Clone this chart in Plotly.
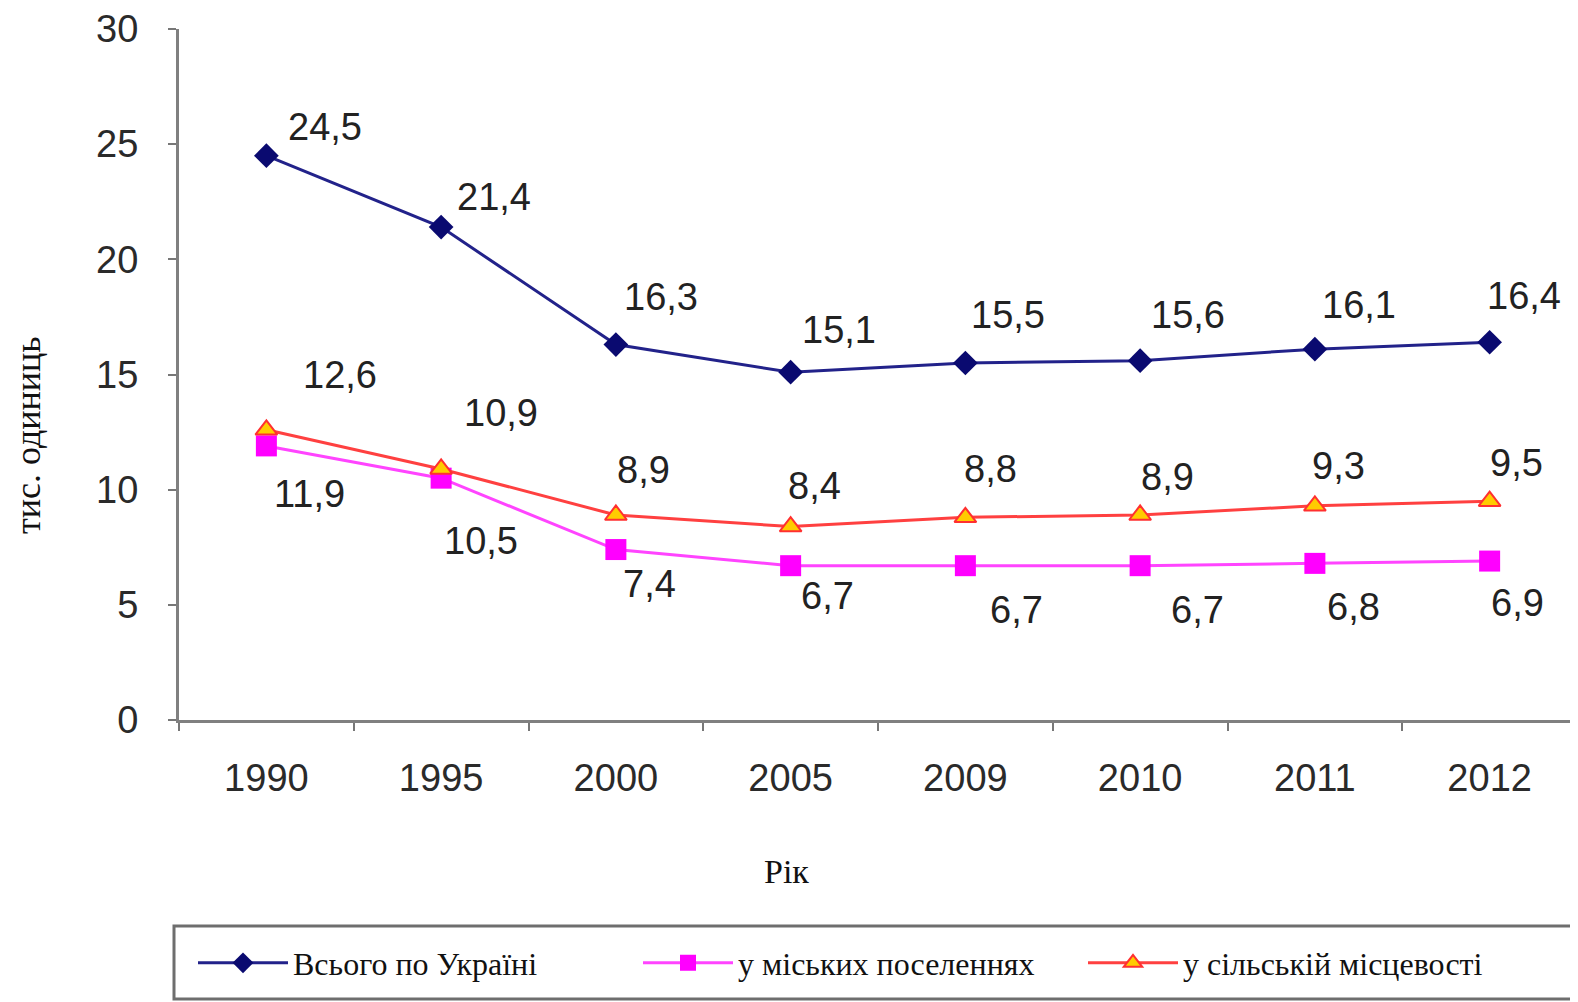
import plotly.graph_objects as go

years = ["1990", "1995", "2000", "2005", "2009", "2010", "2011", "2012"]
total = [24.5, 21.4, 16.3, 15.1, 15.5, 15.6, 16.1, 16.4]
urban = [11.9, 10.5, 7.4, 6.7, 6.7, 6.7, 6.8, 6.9]
rural = [12.6, 10.9, 8.9, 8.4, 8.8, 8.9, 9.3, 9.5]

names = ["Всього по Україні", "у міських поселеннях", "у сільській місцевості"]
y_title = "тис. одиниць"
x_title = "Рік"

# label offsets (pixels) - styling only
off_total = [(59, 29), (53, 30), (45, 48), (48, 42), (43, 48), (48, 46), (44, 44), (34, 46)]
off_rural = [(74, 55), (60, 56), (28, 45), (24, 41), (25, 48), (27, 38), (24, 40), (27, 38)]
off_urban = [(43, -48), (40, -63), (34, -34), (37, -30), (51, -44), (57, -44), (39, -44), (28, -42)]

PAGE_OFF = 8  # browser body margin
W, H = 1578 - PAGE_OFF, 1002 - PAGE_OFF
L = 179 - PAGE_OFF
T = 29 - PAGE_OFF
B = H - (720 - PAGE_OFF)
R = W - (1577 - PAGE_OFF)
pw, ph = W - L - R, H - T - B


def px(xp):  # page x -> paper x
    return (xp - PAGE_OFF - L) / pw


def py(yp):  # page y -> paper y
    return (H - B - (yp - PAGE_OFF)) / ph


fig = go.Figure()
fig.add_trace(go.Scatter(x=years, y=total, name=names[0], mode="lines+markers",
                         line=dict(color="#22228a", width=3),
                         marker=dict(symbol="diamond", size=19, color="#0a0a70")))
fig.add_trace(go.Scatter(x=years, y=urban, name=names[1], mode="lines+markers",
                         line=dict(color="#ff44ff", width=3),
                         marker=dict(symbol="square", size=21, color="#ff00ff")))
fig.add_trace(go.Scatter(x=years, y=rural, name=names[2], mode="lines+markers",
                         line=dict(color="#ff4040", width=3),
                         marker=dict(symbol="triangle-up", size=19, color="#ffcc00",
                                     line=dict(color="#ff3030", width=2))))


def fmt(v):
    return f"{v:.1f}".replace(".", ",")


anns = []
for vals, offs in [(total, off_total), (rural, off_rural), (urban, off_urban)]:
    for i, (v, (dx, dy)) in enumerate(zip(vals, offs)):
        anns.append(dict(x=i, y=v, xref="x", yref="y", text=fmt(v), showarrow=False,
                         xshift=dx, yshift=dy,
                         font=dict(family="Liberation Sans, Arial", size=38, color="#222222")))

anns.append(dict(text=y_title, xref="paper", yref="paper", x=px(28), y=py(435),
                 xanchor="center", yanchor="middle", textangle=-90, showarrow=False,
                 font=dict(family="Liberation Serif, Times New Roman", size=36, color="#111111")))
anns.append(dict(text=x_title, xref="paper", yref="paper", x=px(786), y=py(871),
                 xanchor="center", yanchor="middle", showarrow=False,
                 font=dict(family="Liberation Serif, Times New Roman", size=34, color="#111111")))

fig.update_layout(
    width=W, height=H,
    margin=dict(l=L, r=R, t=T, b=B, autoexpand=False),
    paper_bgcolor="white", plot_bgcolor="white",
    annotations=anns,
    showlegend=True,
    legend=dict(orientation="h", xref="container", yref="container",
                x=(193 - PAGE_OFF) / W, y=1 - (963 - PAGE_OFF) / H, xanchor="left", yanchor="middle",
                bgcolor="rgba(0,0,0,0)", itemwidth=90,
                entrywidth=340, entrywidthmode="pixels",
                font=dict(family="Liberation Serif, Times New Roman", size=32, color="#111111")),
    shapes=[dict(type="rect", xref="paper", yref="paper",
                 x0=px(174), x1=px(1576), y0=py(926), y1=py(999),
                 line=dict(color="#6e6e6e", width=3), fillcolor="rgba(0,0,0,0)")],
)

fig.update_xaxes(type="category", range=[-0.5, len(years) - 0.5], autorange=False, automargin=False,
                 tickson="boundaries", ticks="outside", ticklen=8, tickangle=0,
                 tickcolor="#777777", tickwidth=2, showline=True, linecolor="#808080", linewidth=3,
                 showgrid=False, ticklabelstandoff=22,
                 tickfont=dict(family="Liberation Sans, Arial", size=38, color="#2a2a2a"))
fig.update_yaxes(range=[0, 30], dtick=5, ticks="outside", ticklen=8, tickcolor="#777777", tickwidth=2,
                 automargin=False,
                 showline=True, linecolor="#808080", linewidth=3, showgrid=False, zeroline=False,
                 ticklabelstandoff=22,
                 tickfont=dict(family="Liberation Sans, Arial", size=38, color="#2a2a2a"))

fig.write_html("out.html")
